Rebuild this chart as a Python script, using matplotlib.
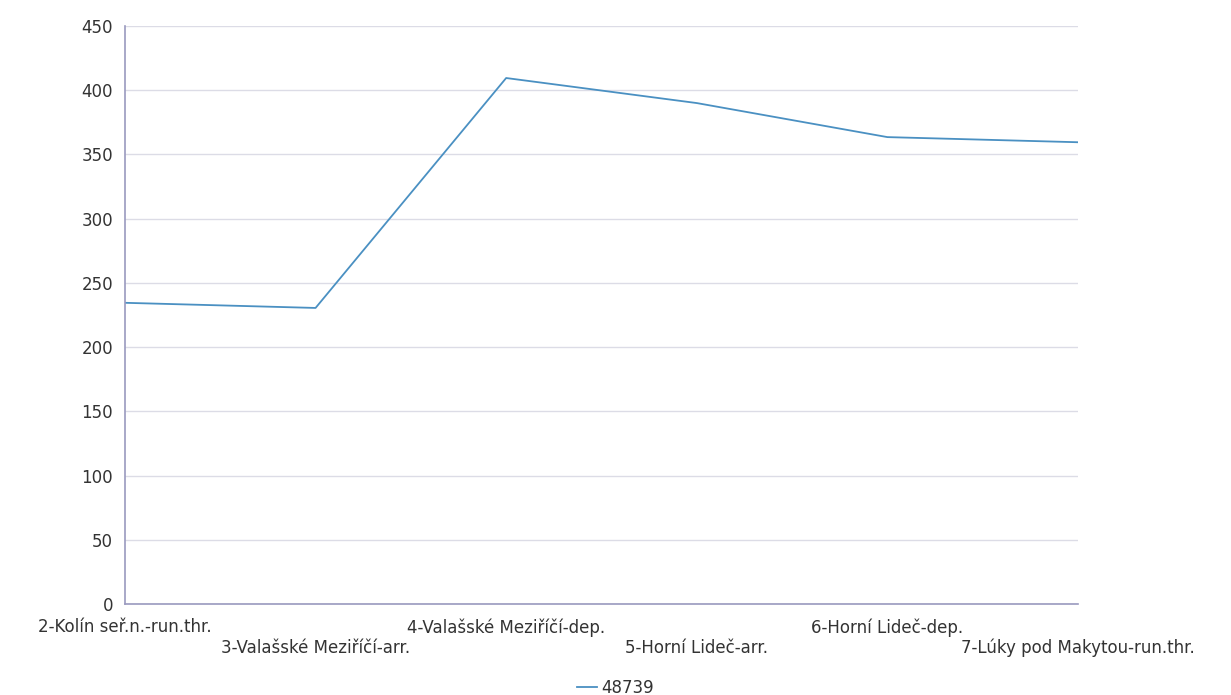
import matplotlib
matplotlib.use("Agg")
import matplotlib.pyplot as plt

stations = ["2-Kolín seř.n.-run.thr.", "3-Valašské Meziříčí-arr.", "4-Valašské Meziříčí-dep.",
            "5-Horní Lideč-arr.", "6-Horní Lideč-dep.", "7-Lúky pod Makytou-run.thr."]
values = [234.5, 230.5, 409.5, 390, 363.5, 359.5]
series_name = "48739"

plt.rcParams['font.family'] = ['DejaVu Sans']
fig = plt.figure(figsize=(12.31, 6.95), dpi=100)
ax = fig.add_axes([0.1015, 0.1309, 0.7742, 0.8317])

x = list(range(len(stations)))
line, = ax.plot(x, values, color="#4a90c2", linewidth=1.3, label=series_name)

ax.set_xlim(0, len(stations) - 1)
ax.set_ylim(0, 450)
ax.set_yticks(range(0, 451, 50))
ax.yaxis.grid(True, color="#dcdce6", linewidth=1)
ax.set_axisbelow(True)
for s in ["top", "right"]:
    ax.spines[s].set_visible(False)
for s in ["left", "bottom"]:
    ax.spines[s].set_color("#9a9abf")
    ax.spines[s].set_linewidth(1.2)

ax.set_xticks(x)
ax.set_xticklabels(["" for _ in stations])
for i, name in enumerate(stations):
    offset = -0.025 if i % 2 == 0 else -0.060
    ax.text(i, offset, name, transform=ax.get_xaxis_transform(), ha="center", va="top",
            fontsize=12, color="#333333")
ax.tick_params(axis="x", length=0)
ax.tick_params(axis="y", length=0, labelsize=12, labelcolor="#333333", pad=8.5)

fig.legend(handles=[line], loc="center", bbox_to_anchor=(0.5, 0.01), frameon=False,
           fontsize=12, handlelength=1.2, handletextpad=0.3, labelcolor="#333333")

fig.savefig("out.png", dpi=100)
